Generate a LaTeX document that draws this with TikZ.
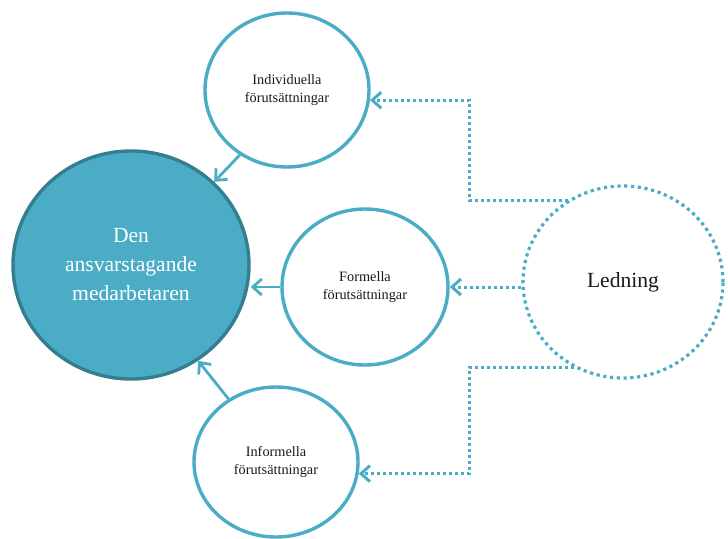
\documentclass[tikz,border=0pt]{standalone}
\usepackage{fontspec}
\setmainfont{Liberation Serif}
\usetikzlibrary{shapes.geometric,arrows.meta,calc}
\definecolor{acc}{HTML}{4BACC6}
\definecolor{accd}{HTML}{357D91}
\definecolor{txt}{HTML}{1A1A1A}
\begin{document}
\begin{tikzpicture}[x=1pt,y=-1pt,
  smallc/.style={ellipse, draw=acc, line width=3.4pt, fill=white, inner sep=0pt, align=center, text=txt,
     font=\fontsize{14.3}{18.5}\selectfont},
  bigc/.style={ellipse, draw=accd, line width=3.4pt, fill=acc, inner sep=0pt, align=center, text=white,
     font=\fontsize{21.6}{29}\selectfont},
  ledc/.style={ellipse, draw=acc, line width=3.2pt, dash pattern=on 3.2pt off 3.6pt, inner sep=0pt,
     align=center, text=txt, font=\fontsize{21.6}{29}\selectfont},
  solidarr/.style={draw=acc, line width=2.8pt, -{Straight Barb[length=9pt,width=16pt]}},
  dotarr/.style={draw=acc, line width=3pt, dash pattern=on 3pt off 3pt, -{Straight Barb[length=9pt,width=16pt]}}
]
\useasboundingbox (0,0) rectangle (728,538);
\node[bigc, minimum width=236pt, minimum height=228pt] (core) at (131,265) {Den\\ansvarstagande\\medarbetaren};
\node[smallc, minimum width=164pt, minimum height=154pt] (ind) at (287,90) {Individuella\\förutsättningar};
\node[smallc, minimum width=166pt, minimum height=156pt] (form) at (365,287) {Formella\\förutsättningar};
\node[smallc, minimum width=164pt, minimum height=150pt] (inf) at (276,462) {Informella\\förutsättningar};
\node[ledc, minimum width=200pt, minimum height=192pt] (led) at (623,282) {\raisebox{-3pt}{Ledning}};
\coordinate (k1) at (469,200);
\draw[solidarr] (ind.-126) -- (core.45);
\draw[solidarr] (form.west) -- (form.west -| core.east);
\draw[solidarr] (inf.127) -- (core.-55);
\draw[dotarr] (led.124) -- (led.124 -| k1) |- (ind.-7);
\draw[dotarr] (led.west |- form.east) -- (form.east);
\draw[dotarr] (led.-120) -- (led.-120 -| k1) |- (inf.-8);
\end{tikzpicture}
\end{document}
